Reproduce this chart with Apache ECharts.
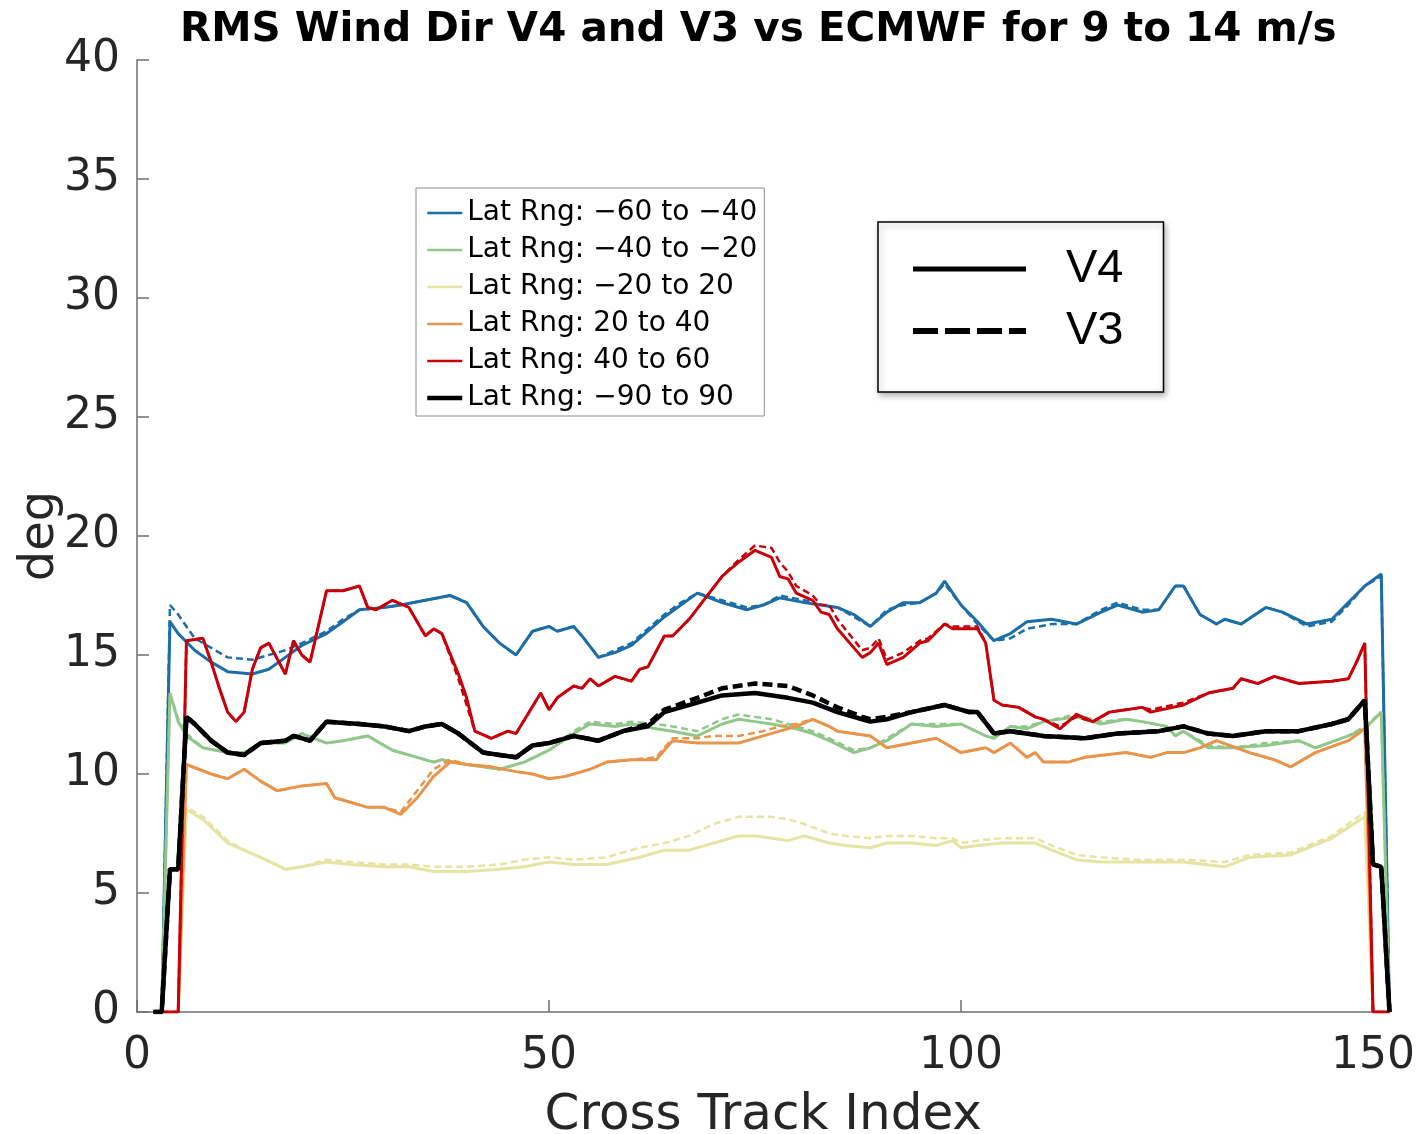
<!DOCTYPE html>
<html>
<head>
<meta charset="utf-8">
<script src="https://cdn.jsdelivr.net/npm/echarts@6/dist/echarts.min.js"></script>
<style>
html,body{margin:0;padding:0;background:#fff;}
#chart{width:1418px;height:1134px;}
</style>
</head>
<body>
<div id="chart"></div>
<script>
const titleText = 'RMS Wind Dir V4 and V3 vs ECMWF for 9 to 14 m/s';
const xTicks = [0, 50, 100, 150];

const names = ['Lat Rng: \u221260 to \u221240', 'Lat Rng: \u221240 to \u221220', 'Lat Rng: \u221220 to 20',
               'Lat Rng: 20 to 40', 'Lat Rng: 40 to 60', 'Lat Rng: \u221290 to 90'];

const blueX = [3,4,5,7,9,11,14,16,18,20,23,25,27,30,32,35,38,40,42,44,46,48,50,51,53,54,56,58,60,62,64,66,68,71,74,76,78,81,83,85,87,89,91,93,95,97,98,100,102,104,106,108,111,114,117,119,122,124,126,127,129,131,132,134,137,139,142,145,147,149,151,152];
const blueV4 = [0,16.4,15.9,15.2,14.7,14.3,14.2,14.4,14.9,15.4,15.9,16.4,16.9,17.0,17.1,17.3,17.5,17.2,16.2,15.5,15.0,16.0,16.2,16.0,16.2,15.8,14.9,15.1,15.4,16.0,16.6,17.1,17.6,17.2,16.9,17.1,17.4,17.2,17.1,17.0,16.7,16.2,16.8,17.2,17.2,17.6,18.1,17.1,16.4,15.6,15.9,16.4,16.5,16.3,16.8,17.1,16.8,16.9,17.9,17.9,16.7,16.3,16.5,16.3,17.0,16.8,16.3,16.5,17.2,17.9,18.4,0];
const blueV3 = [0,17.1,16.7,15.7,15.3,14.9,14.8,15.0,15.2,15.5,16.0,16.5,16.9,17.0,17.1,17.3,17.5,17.2,16.2,15.5,15.0,16.0,16.2,16.0,16.2,15.8,14.9,15.2,15.5,16.1,16.7,17.2,17.6,17.3,17.0,17.1,17.5,17.3,17.1,17.0,16.6,16.2,16.9,17.1,17.2,17.6,18.0,17.1,16.3,15.6,15.7,16.1,16.3,16.3,16.9,17.2,16.9,16.9,17.9,17.9,16.7,16.3,16.5,16.3,17.0,16.8,16.2,16.4,17.1,17.9,18.3,0];

const greenX = [3,4,5,6,8,11,13,15,18,20,23,25,28,31,34,36,37,40,42,44,47,50,53,55,58,60,63,65,68,71,73,75,77,80,82,84,87,89,91,94,97,100,103,104,106,108,110,114,117,120,122,125,126,127,130,133,137,141,143,147,149,151,152];
const greenV4 = [0,13.4,12.2,11.6,11.1,10.9,10.9,11.3,11.3,11.7,11.3,11.4,11.6,11.0,10.7,10.5,10.6,10.4,10.3,10.2,10.5,11.0,11.7,12.1,12.0,12.1,11.9,11.8,11.6,12.1,12.3,12.2,12.1,11.9,11.7,11.4,10.9,11.1,11.4,12.1,12.0,12.1,11.6,11.5,12.0,11.9,12.2,12.4,12.1,12.3,12.2,12.0,11.6,11.8,11.1,11.1,11.2,11.4,11.1,11.6,11.9,12.6,0];
const greenV3 = [0,13.4,12.3,11.7,11.1,10.9,10.9,11.3,11.3,11.7,11.3,11.4,11.6,11.0,10.7,10.5,10.6,10.4,10.3,10.2,10.5,11.0,11.8,12.2,12.1,12.2,12.1,12.0,11.8,12.3,12.5,12.4,12.3,12.0,11.8,11.5,11.0,11.1,11.5,12.1,12.1,12.1,11.6,11.5,12.0,12.0,12.2,12.5,12.2,12.3,12.2,12.0,11.6,11.8,11.2,11.1,11.3,11.4,11.1,11.6,12.0,12.6,0];

const yellowX = [5,6,8,11,13,15,18,20,23,26,30,33,36,40,44,47,50,53,57,61,64,67,70,73,75,77,79,81,84,86,89,91,94,97,99,100,102,105,109,111,114,117,121,127,132,135,140,145,149,150];
const yellowV4 = [0,8.5,8.1,7.1,6.8,6.5,6.0,6.1,6.3,6.2,6.1,6.1,5.9,5.9,6.0,6.1,6.3,6.2,6.2,6.5,6.8,6.8,7.1,7.4,7.4,7.3,7.2,7.4,7.1,7.0,6.9,7.1,7.1,7.0,7.2,6.9,7.0,7.1,7.1,6.8,6.4,6.3,6.3,6.3,6.1,6.5,6.6,7.3,8.2,0];
const yellowV3 = [0,8.6,8.2,7.2,6.8,6.5,6.0,6.1,6.4,6.3,6.2,6.2,6.1,6.1,6.2,6.4,6.5,6.4,6.5,6.9,7.1,7.4,7.9,8.2,8.2,8.2,8.1,7.9,7.5,7.4,7.3,7.4,7.4,7.3,7.3,7.1,7.2,7.3,7.3,7.0,6.6,6.5,6.4,6.4,6.3,6.6,6.7,7.4,8.4,0];

const orangeX = [5,6,9,11,13,15,17,20,23,24,26,28,30,32,34,36,38,40,43,46,48,50,52,55,57,60,63,65,68,70,73,76,78,80,82,84,85,89,91,94,97,100,103,104,106,108,109,110,113,115,120,123,125,127,129,131,135,138,140,143,147,149,150];
const orangeV4 = [0,10.4,10.0,9.8,10.2,9.7,9.3,9.5,9.6,9.0,8.8,8.6,8.6,8.3,9.0,9.9,10.5,10.4,10.3,10.1,10.0,9.8,9.9,10.2,10.5,10.6,10.6,11.4,11.3,11.3,11.3,11.6,11.8,12.0,12.3,12.0,11.8,11.6,11.1,11.3,11.5,10.9,11.1,10.9,11.3,10.7,10.9,10.5,10.5,10.7,10.9,10.7,10.9,10.9,11.1,11.4,10.9,10.6,10.3,10.9,11.4,11.9,0];
const orangeV3 = [0,10.4,10.0,9.8,10.2,9.7,9.3,9.5,9.6,9.0,8.8,8.6,8.6,8.4,9.3,10.2,10.6,10.4,10.3,10.1,10.0,9.8,9.9,10.2,10.5,10.6,10.7,11.5,11.5,11.6,11.6,11.8,12.0,12.1,12.3,12.0,11.8,11.6,11.1,11.3,11.5,10.9,11.1,10.9,11.3,10.7,10.9,10.5,10.5,10.7,10.9,10.7,10.9,10.9,11.1,11.4,10.9,10.6,10.3,10.9,11.4,11.9,0];

const redX = [3,5,6,8,9,10,11,12,13,14,15,16,18,19,20,21,23,25,27,28,29,31,33,35,36,37,39,40,41,43,45,46,49,50,51,53,54,55,56,58,60,61,62,64,65,67,69,71,73,75,77,78,79,80,82,83,84,85,88,89,90,91,93,95,96,98,99,102,103,104,105,107,109,110,112,114,116,118,120,122,123,127,130,133,134,136,138,141,145,147,148,149,150,152];
const redV4 = [0,0,15.6,15.7,14.7,13.6,12.6,12.2,12.6,14.4,15.3,15.5,14.2,15.6,15.0,14.7,17.7,17.7,17.9,17.0,16.9,17.3,17.0,15.8,16.1,15.9,14.2,13.2,11.8,11.5,11.8,11.7,13.4,12.7,13.2,13.7,13.6,14.0,13.7,14.1,13.9,14.4,14.5,15.8,15.8,16.5,17.4,18.3,18.9,19.4,19.1,18.3,18.2,17.6,17.3,16.8,16.7,16.1,14.9,15.1,15.5,14.6,14.9,15.5,15.6,16.3,16.1,16.1,15.5,13.1,12.9,12.8,12.4,12.3,11.9,12.5,12.2,12.6,12.7,12.8,12.6,12.9,13.4,13.6,14.0,13.8,14.1,13.8,13.9,14.0,14.7,15.5,0,0];
const redV3 = [0,0,15.6,15.7,14.7,13.6,12.6,12.2,12.6,14.4,15.3,15.5,14.2,15.6,15.0,14.7,17.7,17.7,17.9,17.0,16.9,17.3,17.0,15.8,16.1,15.9,14.0,12.9,11.8,11.5,11.8,11.7,13.4,12.7,13.2,13.7,13.6,14.0,13.7,14.1,13.9,14.4,14.5,15.8,15.8,16.5,17.4,18.3,19.0,19.6,19.5,18.9,18.5,17.9,17.5,17.1,17.1,16.5,15.2,15.3,15.7,14.8,15.1,15.6,15.7,16.3,16.2,16.2,15.5,13.1,12.9,12.8,12.4,12.3,12.0,12.4,12.2,12.6,12.7,12.8,12.7,13.0,13.4,13.6,14.0,13.8,14.1,13.8,13.9,14.0,14.7,15.5,0,0];

const blackX = [2,3,4,5,6,7,9,11,13,15,18,19,21,23,27,30,33,35,37,39,42,44,46,48,50,53,56,59,62,64,68,71,75,79,82,85,88,89,91,94,98,101,102,104,106,110,115,119,124,127,130,133,137,141,145,147,149,150,151,152];
const blackV4 = [0,0,6.0,6.0,12.4,12.1,11.4,10.9,10.8,11.3,11.4,11.6,11.4,12.2,12.1,12.0,11.8,12.0,12.1,11.7,10.9,10.8,10.7,11.2,11.3,11.6,11.4,11.8,12.0,12.6,13.0,13.3,13.4,13.2,13.0,12.6,12.3,12.2,12.3,12.6,12.9,12.6,12.6,11.7,11.8,11.6,11.5,11.7,11.8,12.0,11.7,11.6,11.8,11.8,12.1,12.3,13.1,6.2,6.1,0];
const blackV3 = [0,0,6.0,6.0,12.4,12.1,11.4,10.9,10.8,11.3,11.4,11.6,11.4,12.2,12.1,12.0,11.8,12.0,12.1,11.7,10.9,10.8,10.7,11.2,11.3,11.6,11.4,11.8,12.1,12.7,13.2,13.6,13.8,13.7,13.3,12.8,12.4,12.3,12.4,12.6,12.9,12.6,12.6,11.7,11.8,11.6,11.5,11.7,11.8,12.0,11.7,11.6,11.8,11.8,12.1,12.3,13.1,6.2,6.1,0];

const groups = [
  {x: blueX, v4: blueV4, v3: blueV3, color: '#1b6ea6', w: 3},
  {x: greenX, v4: greenV4, v3: greenV3, color: '#91c78b', w: 3},
  {x: yellowX, v4: yellowV4, v3: yellowV3, color: '#e6e4a3', w: 3},
  {x: orangeX, v4: orangeV4, v3: orangeV3, color: '#e8954b', w: 3},
  {x: redX, v4: redV4, v3: redV3, color: '#c8000a', w: 3},
  {x: blackX, v4: blackV4, v3: blackV3, color: '#000000', w: 4.5}
];

function pairs(xs, ys) { return xs.map((x, i) => [x, ys[i]]); }

const series = [];
groups.forEach((g, i) => {
  const isBlack = i === 5;
  series.push({
    name: names[i], type: 'line', symbol: 'none', animation: false,
    data: pairs(g.x, g.v4),
    lineStyle: {color: g.color, width: g.w, type: 'solid'},
    itemStyle: {color: g.color}, z: 2 + i
  });
  series.push({
    name: 'V3 ' + names[i], type: 'line', symbol: 'none', animation: false,
    data: pairs(g.x, g.v3),
    lineStyle: {color: g.color, width: isBlack ? 4.5 : 2.5, type: isBlack ? [10, 5] : [7, 4]},
    itemStyle: {color: g.color}, z: 2 + i
  });
});
series.push({name: 'V4', type: 'line', symbol: 'none', data: [], lineStyle: {color: '#000', width: 5, type: 'solid'}, itemStyle: {color: '#000'}});
series.push({name: 'V3', type: 'line', symbol: 'none', data: [], lineStyle: {color: '#000', width: 6, type: [25, 7]}, itemStyle: {color: '#000'}});

const axisColor = '#6f6f6f';
const labelColor = '#262626';

const option = {
  animation: false,
  backgroundColor: '#fff',
  title: {
    text: titleText, left: 180, top: 10, padding: 0,
    textStyle: {fontFamily: 'DejaVu Sans', fontWeight: 'bold', fontSize: 40.5, color: '#000'}
  },
  grid: {left: 137, right: 28.5, top: 60, bottom: 122, containLabel: false, outerBoundsMode: 'none'},
  xAxis: {
    type: 'value', min: 0, max: 152, interval: 50,
    name: 'Cross Track Index', nameLocation: 'middle', nameGap: 79,
    nameTextStyle: {fontFamily: 'DejaVu Sans', fontSize: 50, color: labelColor},
    axisLine: {lineStyle: {color: axisColor, width: 1.5}},
    axisTick: {inside: true, length: 12, customValues: xTicks, lineStyle: {color: axisColor, width: 1.5}},
    axisLabel: {fontFamily: 'DejaVu Sans', fontSize: 44, color: labelColor, margin: 23, customValues: xTicks},
    splitLine: {show: false}
  },
  yAxis: {
    type: 'value', min: 0, max: 40, interval: 5,
    name: 'deg', nameLocation: 'middle', nameGap: 72, nameMoveOverlap: false,
    nameTextStyle: {fontFamily: 'DejaVu Sans', fontSize: 48, color: labelColor},
    axisLine: {show: true, lineStyle: {color: axisColor, width: 1.5}},
    axisTick: {show: true, inside: true, length: 12, lineStyle: {color: axisColor, width: 1.5}},
    axisLabel: {fontFamily: 'DejaVu Sans', fontSize: 44, color: labelColor, margin: 17},
    splitLine: {show: false}
  },
  legend: [
    {
      orient: 'vertical', left: 416, top: 188, padding: [9, 7, 2, 9], itemGap: 5,
      itemWidth: 35, itemHeight: 2, selectedMode: false,
      backgroundColor: '#fff', borderColor: '#8c8c8c', borderWidth: 1, borderRadius: 0,
      lineStyle: {width: 2.5},
      itemStyle: {opacity: 0},
      textStyle: {fontFamily: 'DejaVu Sans', fontSize: 28, lineHeight: 32, color: '#000'},
      data: names.map((n, i) => i === 5 ? {name: n, lineStyle: {width: 4.5}} : {name: n})
    },
    {
      orient: 'vertical', left: 878, top: 222, padding: [20, 40, 34, 32], itemGap: 8,
      itemWidth: 113, itemHeight: 2, selectedMode: false,
      backgroundColor: '#fff', borderColor: '#000', borderWidth: 1.5, borderRadius: 0,
      shadowBlur: 6, shadowColor: 'rgba(0,0,0,0.3)', shadowOffsetX: 2, shadowOffsetY: 3,
      itemStyle: {opacity: 0},
      textStyle: {fontFamily: 'Liberation Sans', fontSize: 47, lineHeight: 54, color: '#000', padding: [0, 0, 0, 35]},
      data: [{name: 'V4', lineStyle: {width: 5}}, {name: 'V3', lineStyle: {width: 6}}]
    }
  ],
  series: series
};

const chart = echarts.init(document.getElementById('chart'), null, {renderer: 'canvas'});
chart.setOption(option);
</script>
</body>
</html>
